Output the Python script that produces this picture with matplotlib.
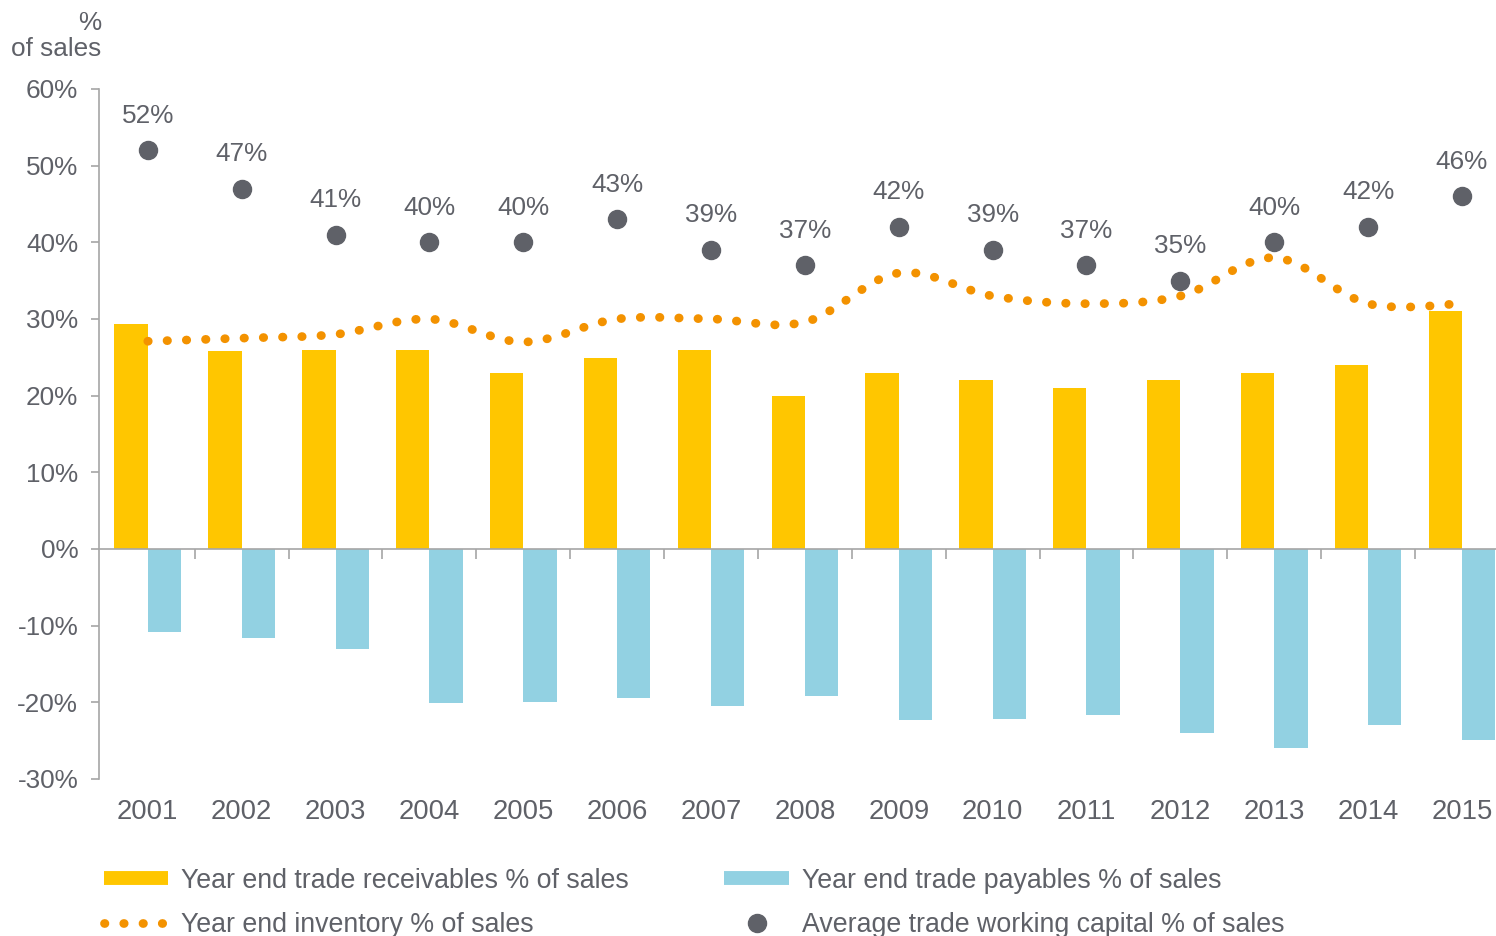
import numpy as np
import matplotlib
matplotlib.use("Agg")
import matplotlib.pyplot as plt
from matplotlib.path import Path
from matplotlib.patches import PathPatch
from matplotlib.lines import Line2D
from matplotlib.ticker import FuncFormatter, FixedLocator

plt.rcParams['font.family'] = ['Liberation Sans', 'DejaVu Sans']

years = [str(y) for y in range(2001, 2016)]
receivables = [29.3, 25.8, 26.0, 26.0, 23.0, 24.9, 26.0, 20.0, 23.0, 22.0, 21.0, 22.0, 23.0, 24.0, 31.0]
payables = [-10.8, -11.6, -13.0, -20.1, -20.0, -19.4, -20.5, -19.2, -22.3, -22.2, -21.7, -24.0, -26.0, -23.0, -24.9]
inventory = [27.1, 27.5, 28.0, 30.0, 27.0, 30.0, 30.0, 29.6, 36.0, 33.0, 32.0, 33.0, 38.0, 32.0, 32.0]
working_capital = [52, 47, 41, 40, 40, 43, 39, 37, 42, 39, 37, 35, 40, 42, 46]

c_rec = '#FFC600'
c_pay = '#92D1E2'
c_inv = '#F39200'
c_wc = '#5F6168'
c_txt = '#5F6168'
c_axis = '#A6A6A6'

dot_lw = 6.3
dots = (0, (0.05, 2.15))

fig = plt.figure(figsize=(14.96, 9.36), dpi=100)
ax = fig.add_axes([99 / 1496, 1 - 779 / 936, 1408 / 1496, 690 / 936])

x = np.arange(len(years))
w = 0.355
ax.bar(x - w / 2, receivables, w, color=c_rec, zorder=2)
ax.bar(x + w / 2, payables, w, color=c_pay, zorder=2)

# smooth line like excel: catmull-rom as bezier segments
pts = np.column_stack([x, inventory]).astype(float)
verts = [tuple(pts[0])]
codes = [Path.MOVETO]
n = len(pts)
for i in range(n - 1):
    p0 = pts[max(i - 1, 0)]
    p1 = pts[i]
    p2 = pts[i + 1]
    p3 = pts[min(i + 2, n - 1)]
    c1 = p1 + (p2 - p0) / 6
    c2 = p2 - (p3 - p1) / 6
    verts += [tuple(c1), tuple(c2), tuple(p2)]
    codes += [Path.CURVE4] * 3
inv_patch = PathPatch(Path(verts, codes), fill=False, edgecolor=c_inv, lw=dot_lw,
                      linestyle=dots, capstyle='round', zorder=3)
ax.add_patch(inv_patch)

ax.plot(x, working_capital, 'o', color=c_wc, markersize=13, zorder=4)
for xi, v in zip(x, working_capital):
    ax.annotate(f"{v}%", (xi, v), xytext=(0, 25), textcoords='offset points',
                ha='center', va='center', fontsize=18.8, color=c_txt)

ax.set_xlim(-0.52, 14.48)
ax.set_ylim(-30, 60)
ax.set_yticks(np.arange(-30, 61, 10))
ax.yaxis.set_major_formatter(FuncFormatter(lambda v, p: f"{v:.0f}%"))
ax.tick_params(axis='y', direction='out', length=6, width=1.2, color=c_axis,
               labelsize=18.8, labelcolor=c_txt, pad=9)

ax.spines['bottom'].set_position(('data', 0))
ax.xaxis.set_major_locator(FixedLocator(np.arange(0.5, 14, 1)))
ax.tick_params(axis='x', direction='out', length=7, width=1.2, color=c_axis,
               labelbottom=False)
for s in ['top', 'right']:
    ax.spines[s].set_visible(False)
for s in ['left', 'bottom']:
    ax.spines[s].set_color(c_axis)
    ax.spines[s].set_linewidth(1.2)
ax.spines['bottom'].set_zorder(5)

trans = ax.get_xaxis_transform()
for xi, yr in zip(x, years):
    ax.text(xi, -33 / 690, yr, transform=trans, ha='center', va='center',
            fontsize=19.8, color=c_txt)

fig.text(101 / 1496, 1 - 36 / 936, "%\nof sales", ha='right', va='center',
         fontsize=18.8, color=c_txt, linespacing=1.1)

handles = [
    Line2D([], [], color=c_rec, lw=10, solid_capstyle='butt'),
    Line2D([], [], color=c_inv, lw=dot_lw, linestyle=dots, dash_capstyle='round'),
    Line2D([], [], color=c_pay, lw=10, solid_capstyle='butt'),
    Line2D([], [], color=c_wc, marker='o', markersize=13, lw=0),
]
labels = ["Year end trade receivables % of sales", "Year end inventory % of sales",
          "Year end trade payables % of sales", "Average trade working capital % of sales"]
leg = fig.legend(handles, labels, ncol=2, loc='upper left',
                 bbox_to_anchor=(93 / 1496, 1 - 857 / 936), frameon=False,
                 fontsize=19.3, handlelength=2.4, handletextpad=0.5,
                 columnspacing=3.55, labelspacing=0.7, borderaxespad=0)
for t in leg.get_texts():
    t.set_color(c_txt)

fig.savefig("out.png", dpi=100)
